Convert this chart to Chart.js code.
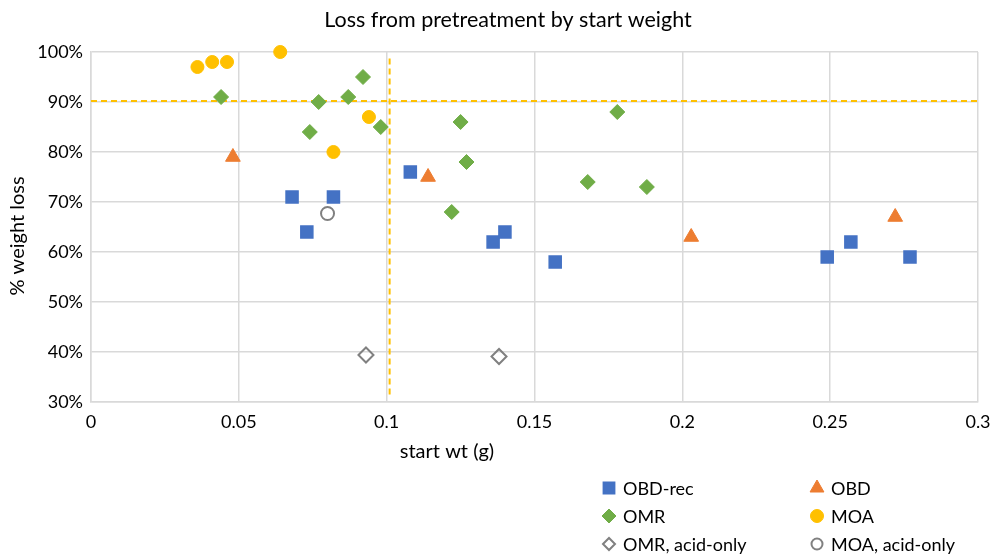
<!DOCTYPE html>
<html>
<head>
<meta charset="utf-8">
<title>Loss from pretreatment by start weight</title>
<script src="https://cdn.jsdelivr.net/npm/chart.js@4.4.1/dist/chart.umd.min.js"></script>
<style>
  html, body { margin: 0; padding: 0; background: #fff; }
  #wrap { width: 995px; height: 556px; }
</style>
</head>
<body>
<div id="wrap"><canvas id="chartLoss" width="995" height="556"></canvas></div>
<script>
// data (x = start wt in g, y = % weight loss)
const obdRecX = [0.068, 0.073, 0.082, 0.108, 0.136, 0.140, 0.157, 0.249, 0.257, 0.277];
const obdRecY = [71, 64, 71, 76, 62, 64, 58, 59, 62, 59];

const obdX = [0.048, 0.114, 0.203, 0.272];
const obdY = [79, 75, 63, 67];

const omrX = [0.044, 0.074, 0.077, 0.087, 0.092, 0.098, 0.122, 0.125, 0.127, 0.168, 0.178, 0.188];
const omrY = [91, 84, 90, 91, 95, 85, 68, 86, 78, 74, 88, 73];

const moaX = [0.036, 0.041, 0.046, 0.064, 0.082, 0.094];
const moaY = [97, 98, 98, 100, 80, 87];

const omrAcidX = [0.093, 0.138];
const omrAcidY = [39.4, 39.1];

const moaAcidX = [0.080];
const moaAcidY = [67.7];

// threshold lines
const refLineX = [0.101, 0.101];
const refLineXY = [31.5, 98.9];
const refLineYX = [0, 0.3];
const refLineY = [90.2, 90.2];

const xTicks = [0, 0.05, 0.1, 0.15, 0.2, 0.25, 0.3];
const yTicks = [30, 40, 50, 60, 70, 80, 90, 100];

const FONT = "Lato, 'Open Sans', sans-serif";
const TEXT = "#000";
const GRID = "#d9d9d9";

function pts(xs, ys) {
  return xs.map(function (x, i) { return { x: x, y: ys[i] }; });
}

document.addEventListener("DOMContentLoaded", function () {
  if (typeof Chart === "undefined") {
    console.error("Chart.js not loaded");
    return;
  }

  const canvas = document.getElementById("chartLoss");

  // title, axis titles and the two-column legend
  const extraText = {
    id: "extraText",
    afterDraw(chart) {
      const ctx = chart.ctx;
      ctx.save();
      ctx.fillStyle = TEXT;
      ctx.textBaseline = "middle";

      ctx.textAlign = "center";
      ctx.font = "21.5px " + FONT;
      ctx.fillText("Loss from pretreatment by start weight", 508, 20);

      ctx.font = "20px " + FONT;
      ctx.fillText("start wt (g)", 447, 452);

      ctx.save();
      ctx.translate(18, 236);
      ctx.rotate(-Math.PI / 2);
      ctx.fillText("% weight loss", 0, 0);
      ctx.restore();

      // legend
      const cols = [609, 817];
      const rows = [488, 516, 544];
      ctx.font = "18px " + FONT;
      ctx.textAlign = "left";
      let k = 0;
      chart.data.datasets.forEach(function (ds) {
        if (ds.isRef) return;
        const cx = cols[k % 2];
        const cy = rows[Math.floor(k / 2)];
        ctx.save();
        ctx.fillStyle = ds.backgroundColor;
        ctx.strokeStyle = ds.borderColor;
        ctx.lineWidth = ds.borderWidth;
        Chart.helpers.drawPoint(ctx, {
          pointStyle: ds.pointStyle,
          radius: ds.legendRadius,
          rotation: 0,
          borderWidth: ds.borderWidth
        }, cx, cy);
        ctx.restore();
        ctx.fillText(ds.label, cx + 14, cy + 1);
        k++;
      });
      ctx.restore();
    }
  };

  new Chart(canvas, {
    type: "scatter",
    data: {
      datasets: [
        {
          label: "OBD-rec",
          data: pts(obdRecX, obdRecY),
          pointStyle: "rect",
          pointRadius: 8.5,
          legendRadius: 8,
          backgroundColor: "#4472C4",
          borderColor: "#4472C4",
          borderWidth: 1.5
        },
        {
          label: "OBD",
          data: pts(obdX, obdY),
          pointStyle: "triangle",
          pointRadius: 8.5,
          legendRadius: 8,
          backgroundColor: "#ED7D31",
          borderColor: "#ED7D31",
          borderWidth: 1
        },
        {
          label: "OMR",
          data: pts(omrX, omrY),
          pointStyle: "rectRot",
          pointRadius: 7.5,
          legendRadius: 7,
          backgroundColor: "#70AD47",
          borderColor: "#70AD47",
          borderWidth: 1
        },
        {
          label: "MOA",
          data: pts(moaX, moaY),
          pointStyle: "circle",
          pointRadius: 6.5,
          legendRadius: 6.5,
          backgroundColor: "#FFC000",
          borderColor: "#FFC000",
          borderWidth: 1
        },
        {
          label: "OMR, acid-only",
          data: pts(omrAcidX, omrAcidY),
          pointStyle: "rectRot",
          pointRadius: 7.5,
          legendRadius: 6,
          backgroundColor: "rgba(255,255,255,0)",
          borderColor: "#808080",
          borderWidth: 2
        },
        {
          label: "MOA, acid-only",
          data: pts(moaAcidX, moaAcidY),
          pointStyle: "circle",
          pointRadius: 6.5,
          legendRadius: 5.5,
          backgroundColor: "rgba(255,255,255,0)",
          borderColor: "#808080",
          borderWidth: 2
        },
        {
          type: "line",
          isRef: true,
          label: "ref x",
          data: pts(refLineX, refLineXY),
          borderColor: "#FFC000",
          borderWidth: 2,
          borderDash: [6, 4],
          pointRadius: 0,
          order: 10
        },
        {
          type: "line",
          isRef: true,
          label: "ref y",
          data: pts(refLineYX, refLineY),
          borderColor: "#FFC000",
          borderWidth: 2,
          borderDash: [6, 4],
          pointRadius: 0,
          order: 10
        }
      ]
    },
    options: {
      responsive: false,
      animation: false,
      devicePixelRatio: 1,
      clip: false,
      layout: {
        padding: { left: 0, right: 17, top: 52, bottom: 114 }
      },
      plugins: {
        legend: { display: false },
        title: { display: false },
        tooltip: { enabled: false }
      },
      scales: {
        x: {
          type: "linear",
          min: 0,
          max: 0.3,
          afterBuildTicks: function (scale) {
            scale.ticks = xTicks.map(function (v) { return { value: v }; });
          },
          afterFit: function (scale) {
            scale.height = 40;
            scale.paddingLeft = 0;
            scale.paddingRight = 0;
          },
          ticks: {
            padding: 9,
            color: TEXT,
            font: { family: FONT, size: 18 },
            maxRotation: 0,
            callback: function (v) { return String(Number(v.toFixed(2))); }
          },
          grid: { color: GRID, lineWidth: 1.5, drawTicks: false },
          border: { color: GRID, width: 1.5 }
        },
        y: {
          type: "linear",
          min: 30,
          max: 100,
          afterBuildTicks: function (scale) {
            scale.ticks = yTicks.map(function (v) { return { value: v }; });
          },
          afterFit: function (scale) {
            scale.width = 91;
            scale.paddingTop = 0;
            scale.paddingBottom = 0;
          },
          ticks: {
            padding: 8,
            color: TEXT,
            font: { family: FONT, size: 18 },
            callback: function (v) { return v + "%"; }
          },
          grid: { color: GRID, lineWidth: 1.5, drawTicks: false },
          border: { color: GRID, width: 1.5 }
        }
      }
    },
    plugins: [extraText]
  });
});
</script>
</body>
</html>
